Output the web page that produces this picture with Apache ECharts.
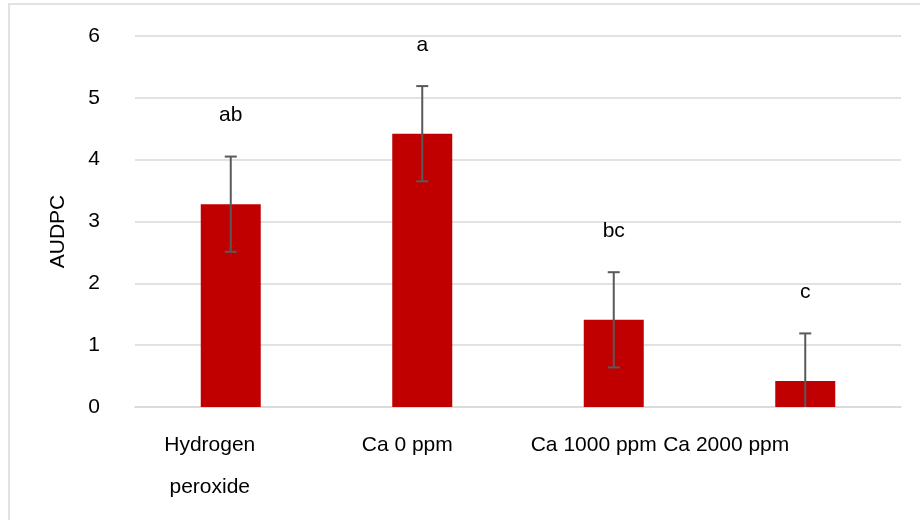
<!DOCTYPE html>
<html>
<head>
<meta charset="utf-8">
<script src="https://cdn.jsdelivr.net/npm/echarts@6/dist/echarts.min.js"></script>
<style>
  html, body { margin: 0; padding: 0; background: #fff; }
  #main { width: 920px; height: 520px; }
</style>
</head>
<body>
<div id="main"></div>
<script>
// data
var categories = ['Hydrogen\nperoxide', 'Ca 0 ppm', 'Ca 1000 ppm', 'Ca 2000 ppm'];
var audpc = [3.28, 4.42, 1.41, 0.42];
var stdErr = [0.77, 0.77, 0.77, 0.77];
var letters = ['ab', 'a', 'bc', 'c'];
var yTicks = [0, 1, 2, 3, 4, 5, 6];

// label shift to the left (px), as in the original layout
var labelShift = [21, 15, 20, 79];

var font = 'Liberation Sans, Arial, sans-serif';
var chart = echarts.init(document.getElementById('main'));

var errData = audpc.map(function (v, i) { return [i, v, stdErr[i], letters[i]]; });

chart.setOption({
  animation: false,
  backgroundColor: '#fff',
  graphic: [{
    type: 'rect',
    shape: { x: 9, y: 4, width: 1200, height: 1200 },
    style: { fill: 'none', stroke: '#d9d9d9', lineWidth: 1.5 },
    silent: true
  }],
  grid: { left: 135, right: 19, top: 36, bottom: 113, outerBoundsMode: 'none', containLabel: false },
  xAxis: {
    type: 'category',
    data: categories.map(function (c, i) {
      return { value: c, textStyle: { padding: [0, labelShift[i] * 2, 0, 0] } };
    }),
    axisLine: { lineStyle: { color: '#d9d9d9', width: 1.5 } },
    axisTick: { show: false },
    axisLabel: {
      interval: 0, color: '#000', fontSize: 21, fontFamily: font,
      lineHeight: 42, margin: 17
    }
  },
  yAxis: {
    type: 'value',
    min: yTicks[0], max: yTicks[yTicks.length - 1], interval: 1,
    name: 'AUDPC', nameLocation: 'middle', nameRotate: 90, nameGap: 66,
    nameTextStyle: { color: '#000', fontSize: 21, fontFamily: font, padding: [0, 20, 0, 0] },
    axisLine: { show: false },
    axisTick: { show: false },
    axisLabel: { color: '#000', fontSize: 21, fontFamily: font, margin: 35 },
    splitLine: { lineStyle: { color: '#d9d9d9', width: 1.5 } }
  },
  series: [{
    type: 'bar',
    data: audpc,
    barWidth: 60,
    itemStyle: { color: '#c00000' }
  }, {
    type: 'custom',
    data: errData,
    z: 10,
    renderItem: function (params, api) {
      var i = api.value(0), v = api.value(1), e = api.value(2);
      var hiVal = v + e, loVal = Math.max(0, v - e);
      var top = api.coord([i, hiVal]);
      var bot = api.coord([i, loVal]);
      var x = top[0], cap = 6;
      var st = { stroke: '#595959', lineWidth: 2 };
      var kids = [
        { type: 'line', shape: { x1: x, y1: top[1], x2: x, y2: bot[1] }, style: st },
        { type: 'line', shape: { x1: x - cap, y1: top[1], x2: x + cap, y2: top[1] }, style: st }
      ];
      if (v - e > 0) {
        kids.push({ type: 'line', shape: { x1: x - cap, y1: bot[1], x2: x + cap, y2: bot[1] }, style: st });
      }
      kids.push({
        type: 'text',
        style: {
          text: letters[params.dataIndex], x: x, y: top[1] - 41,
          align: 'center', verticalAlign: 'middle',
          fill: '#000', font: '21px ' + font
        }
      });
      return { type: 'group', children: kids };
    }
  }]
});
</script>
</body>
</html>
